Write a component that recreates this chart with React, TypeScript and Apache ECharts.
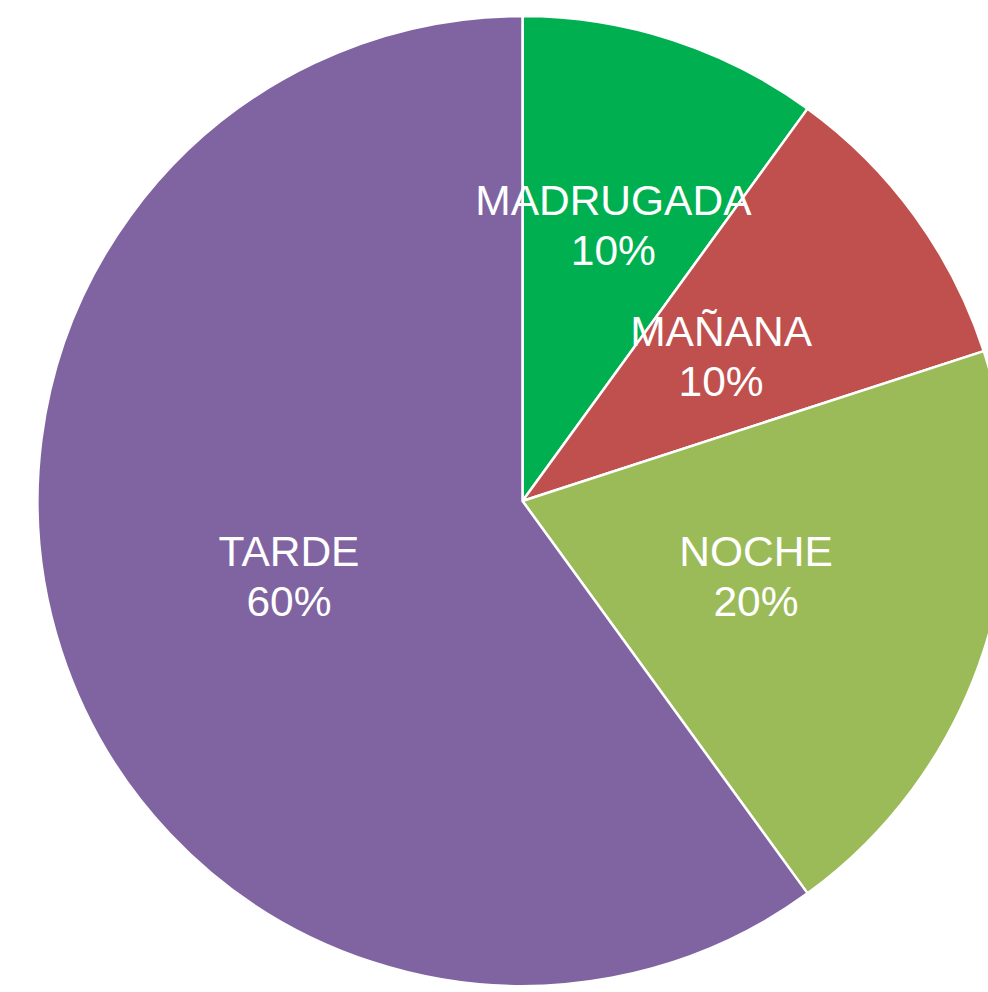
import React, { useEffect, useRef } from "react";
import * as echarts from "echarts";

const categories = ["MADRUGADA", "MAÑANA", "NOCHE", "TARDE"];
const values = [10, 10, 20, 60];
const colors = ["#00B050", "#C0504D", "#9BBB59", "#8064A2"];
const labelOffsets: [number, number][] = [[15, -42], [0, 0], [0, 0], [0, 0]];

export default function App() {
  const ref = useRef<HTMLDivElement>(null);
  useEffect(() => {
    if (!ref.current) return;
    const chart = echarts.init(ref.current, undefined, { renderer: "svg" });
    chart.setOption({
      animation: false,
      backgroundColor: "#ffffff",
      series: [
        {
          type: "pie",
          center: [522.5, 501],
          radius: [0, 485],
          startAngle: 90,
          clockwise: true,
          percentPrecision: 0,
          avoidLabelOverlap: false,
          itemStyle: { borderColor: "#ffffff", borderWidth: 2.5 },
          label: {
            show: true,
            position: "inside",
            formatter: "{b}\n{d}%",
            color: "#ffffff",
            fontFamily: "Liberation Sans, Arial, sans-serif",
            fontSize: 42.5,
            lineHeight: 50,
            align: "center",
          },
          labelLine: { show: false },
          emphasis: { disabled: true },
          data: categories.map((name, i) => ({
            name,
            value: values[i],
            itemStyle: { color: colors[i] },
            label: { offset: labelOffsets[i] },
          })),
        },
      ],
    });
    return () => chart.dispose();
  }, []);
  return (
    <div
      ref={ref}
      style={{ position: "absolute", left: 0, top: 0, width: 988, height: 992 }}
    />
  );
}
